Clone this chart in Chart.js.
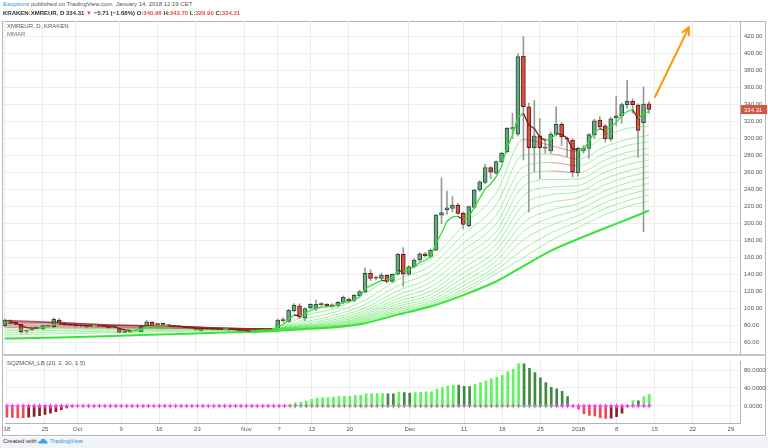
<!DOCTYPE html>
<html>
<head>
<meta charset="utf-8">
<title>XMREUR, D, KRAKEN</title>
<script src="https://cdn.jsdelivr.net/npm/chart.js@4.4.1/dist/chart.umd.min.js"></script>
<style>
  html, body { margin: 0; padding: 0; }
  body { width: 768px; height: 448px; position: relative; overflow: hidden; background: #fff;
         font-family: "Liberation Sans", Arial, sans-serif; }
  .abs { position: absolute; white-space: nowrap; }
  .red { color: #d75442; }
  .blue { color: #2196f3; }
  #frame { left: 2px; top: 21px; width: 764px; height: 415px; border: 1px solid #b2b5be; box-sizing: border-box; }
  #sep { left: 2px; top: 354px; width: 764px; height: 2px; background: #c3c6cc; }
  #foot { left: 0; top: 437px; width: 768px; height: 11px; background: #f1f3f6; }
  canvas { position: absolute; left: 0; }
</style>
</head>
<body>
<div id="frame" class="abs"></div>
<canvas id="priceChart" style="top:21px;width:768px;height:334px" width="768" height="334"></canvas>
<canvas id="momChart" style="top:356px;width:768px;height:80px" width="768" height="80"></canvas>
<div id="sep" class="abs"></div>

<div class="abs" style="left:3px;top:1px;font-size:6px;color:#555"><span class="blue">Esoptions</span> published on TradingView.com, January 14, 2018 12:19 CET</div>
<div class="abs" style="left:3px;top:10px;font-size:6px;font-weight:bold;color:#333">KRAKEN:XMREUR, D 334.31 <span class="red">&#9660;</span> &minus;5.71 (&minus;1.68%) O:<span class="red">340.96</span> H:<span class="red">343.70</span> L:<span class="red">329.90</span> C:<span class="red">334.31</span></div>
<div class="abs" style="left:7px;top:23px;font-size:6px;color:#555">XMREUR, D, KRAKEN</div>
<div class="abs" style="left:7px;top:31px;font-size:6px;color:#777">MMAR</div>
<div class="abs" style="left:7px;top:360px;font-size:6px;color:#555">SQZMOM_LB (20, 2, 20, 1.5)</div>

<div id="foot" class="abs"></div>
<div class="abs" style="left:3px;top:438px;font-size:6px;color:#333">Created with
  <svg width="10" height="6" viewBox="0 0 10 6" style="vertical-align:-1px"><path d="M1 5.5 Q0 5.5 0.5 4 Q1 2.5 2.5 3 Q3 0.5 5.5 0.8 Q8 1 8 3 Q10 3 9.5 5 Q9.2 5.5 8.5 5.5 Z" fill="#3ba0e6"/></svg>
  <span class="blue">TradingView</span></div>

<script>
// daily candles, 18 Sep 2017 (day 0) .. 14 Jan 2018 (day 118)
const opens = [
  80, 85.9, 84, 81.6, 74.1, 74.9, 77.6, 76.1, 80, 78.8,
  86.7, 82.8, 81, 81.6, 80.8, 78.8, 79.8, 79.2, 79.8, 78.8,
  78.8, 75.8, 74.1, 73, 74, 73, 79.6, 84, 81.6, 82.8,
  80.8, 80, 79, 78.8, 77.6, 76.9, 74, 76.3, 76, 75.5,
  76, 75, 75.8, 75.8, 74.9, 74.1, 72.2, 75.8, 75.6, 75.5,
  74.1, 86.7, 85, 97.5, 103.5, 89.2, 101.2, 99.6, 105.2, 105.2,
  104.5, 103.5, 107.5, 111.4, 109.6, 115.2, 120, 141.6, 136.4, 135.5,
  139.4, 132.2, 140.5, 164, 140.6, 149.4, 157.3, 164.7, 161.5, 169,
  210, 216.5, 218, 222, 212.2, 197.6, 219.3, 239.6, 248.7, 265.9,
  259.3, 273, 284.7, 311.4, 305.2, 397.3, 337.6, 289.4, 303.5, 289.6,
  285.5, 305.2, 317, 300.5, 298.5, 260, 285.5, 288.7, 304.4, 322,
  315, 299.3, 324.3, 326.9, 340, 344, 339.6, 319, 340.96
];
const highs = [
  88, 87, 84.7, 82, 75, 77, 78, 80.5, 80.5, 89,
  88.5, 83.5, 81.6, 82, 81, 80.5, 80.3, 80.6, 80.5, 79.3,
  79.5, 76.5, 74.6, 73.6, 74.6, 80, 86, 84.7, 83, 83.2,
  81.2, 80.5, 79.5, 79.2, 78, 77.3, 76.8, 76.8, 76.4, 76.5,
  76.5, 76.6, 76.2, 76.2, 75.2, 74.5, 76.2, 76.3, 76, 76,
  88, 89.4, 99, 106, 106, 101, 106, 110, 107, 106,
  106, 108.5, 115, 112.5, 116.5, 121.5, 148, 146, 138, 142,
  140, 141, 165, 171.8, 151, 159, 166, 166, 170, 211,
  254, 238.5, 232, 224, 214, 221, 240.5, 250.5, 270, 267,
  274, 284, 313, 330, 400, 420, 342, 345, 324, 300,
  308, 337.6, 319, 302, 300, 290, 292, 306, 323, 326,
  317, 325, 350, 342, 369, 347, 341, 361, 343.7
];
const lows = [
  79, 82, 81, 71, 71, 74, 76, 75.5, 79, 78,
  82, 80, 80, 79, 79, 78, 79, 78.6, 79, 77,
  78, 71.5, 71.8, 72, 73.4, 72.5, 79, 79.5, 80, 79.6,
  79.5, 78.5, 78.2, 77.2, 76.5, 74.5, 73.6, 75.6, 75.2, 75,
  75.3, 74.6, 75, 73.6, 72.6, 71.6, 71.8, 75, 74.8, 74.5,
  73.5, 84, 84, 96, 88, 86, 100, 98, 103, 102,
  101.5, 102, 106, 107, 108, 114, 119, 133, 134, 134,
  130, 131, 139.5, 126, 139, 148, 155, 161, 160, 168,
  200, 211, 214, 211, 193.8, 196, 218, 238, 247, 253,
  258, 272, 283, 300, 303, 275, 214, 261, 253, 283,
  283, 303, 292, 279, 255, 256, 283, 277, 300, 311,
  296, 297, 315, 318, 336, 330, 278, 190.6, 329.9
];
const closes = [
  86.7, 82.8, 81.6, 73, 73.6, 76.1, 76.9, 80, 79.6, 87.5,
  82.8, 80.8, 80.6, 79.6, 79.6, 79.6, 79.5, 80, 79.5, 77.6,
  78.5, 72.2, 72.2, 72.7, 74.3, 79.6, 84.7, 80, 81.2, 80,
  80, 78.8, 78.7, 77.6, 76.9, 74.9, 76.1, 76, 75.7, 76,
  75.8, 76.1, 75.5, 74.1, 73, 72.2, 75.8, 75.5, 75.3, 75,
  86.7, 86, 98, 104, 89.9, 100.2, 105.2, 105, 104.8, 103.5,
  102.8, 107.5, 113.8, 109.2, 115.6, 120.2, 141.6, 135.5, 136, 139.6,
  132.2, 140.5, 164, 140.5, 149.4, 157.3, 164.5, 162, 169, 210,
  213, 218.8, 222, 212.2, 199.3, 220, 239.6, 249.4, 265.9, 260.5,
  273, 282.8, 312.2, 313, 396.5, 337.6, 289.4, 303.5, 289.4, 289,
  305.5, 317, 302, 299.5, 261.2, 288.7, 289, 304.8, 321, 314,
  299.8, 323.4, 327, 340, 344, 340, 309.6, 340.7, 334.31
];

// top (fastest) line of the ribbon, one value per day
const fastMA = [
  84, 84.2, 83.4, 80, 77.8, 77.2, 77.1, 78, 78.6, 81.5,
  82, 81.6, 81.3, 80.7, 80.3, 80.1, 79.9, 79.9, 79.8, 79.1,
  78.9, 76.7, 75.2, 74.4, 74.4, 76.1, 79, 79.3, 79.9, 79.9,
  79.9, 79.5, 79.2, 78.7, 78.1, 77, 76.7, 76.5, 76.2, 76.1,
  76, 76, 75.8, 75.2, 74.5, 73.7, 74.4, 74.8, 75, 75,
  79, 81.3, 87, 92.6, 91.7, 94.5, 98, 100.3, 101.8, 102.4,
  102.5, 104.2, 107.4, 108, 110.5, 113.7, 123, 127.2, 130.1, 133.3,
  133, 135.5, 145, 143.5, 145.5, 149.4, 154.4, 157, 161, 177,
  189, 203, 208, 208.5, 205, 208, 219, 230, 241, 247,
  255, 267, 290, 304, 325, 330, 316, 312, 302, 298,
  299, 306, 305, 301, 288, 287, 288, 296, 308, 312,
  309, 314, 319, 327, 332, 334, 324, 329.5, 332
];

// the slower ribbon lines, read at these days
const ribbonDays = [0, 10, 20, 30, 40, 49, 55, 61, 66, 72, 78, 84, 90, 95, 100, 105, 110, 114, 118];
const ribbonThin = [
  [86, 83, 80, 79.6, 76.2, 75, 92, 101, 118, 142, 158, 198, 236, 299, 292, 285, 303, 312, 315],
  [86.5, 84, 80.5, 79.8, 76.7, 75.5, 87.5, 97, 110, 134, 150.5, 187, 222, 281, 282, 276, 291, 299, 304],
  [86, 84, 81, 79.9, 77.1, 76, 84.5, 93.5, 105, 127, 143.5, 177, 210, 267, 272, 268, 283, 292, 296.5],
  [85, 83.5, 81, 79.8, 77.3, 76.3, 82.5, 90.5, 101, 121, 137, 169, 200, 255, 262, 260, 275, 284, 288.7],
  [84, 83, 80.5, 79.5, 77.4, 76.4, 81, 88, 98, 116, 131, 161, 191, 244, 252, 252.5, 268, 277, 282],
  [82.5, 82, 80, 79, 77.3, 76.4, 80, 86, 95.5, 112, 125.5, 154.5, 183, 233, 243, 245, 260.5, 269.5, 275],
  [81, 80.5, 79, 78.3, 77.1, 76.3, 79.2, 84.5, 93.5, 108.5, 120.5, 148, 175.5, 222, 234, 237.5, 253, 262, 268],
  [79.5, 79, 78, 77.6, 76.9, 76.2, 78.6, 83, 91.5, 105.5, 116.5, 142, 168.5, 211, 225, 230.5, 246, 255, 261],
  [78, 77.6, 77.3, 76.9, 76.7, 76.1, 78, 82, 90, 103, 113, 136.5, 162, 201, 216, 223.5, 239, 248, 254.6],
  [76, 76.3, 76.4, 76.6, 76.6, 76, 77.5, 81, 88.5, 100.5, 110, 131.5, 156, 191, 207, 216.5, 232, 241, 247.5],
  [74, 74.5, 75, 75.6, 76, 75.6, 77, 80.2, 87, 98.5, 107.5, 127, 150.5, 181, 198, 209.5, 225, 234, 240.5],
  [71.5, 72.5, 73.5, 74.3, 75.1, 75, 76.6, 79.5, 85.8, 96.5, 105.5, 123, 145.5, 170, 189, 202.5, 218, 227, 233.8],
  [69, 70.5, 71.8, 73, 74.2, 74.3, 76.2, 78.9, 84.6, 95, 104, 120, 141, 160, 180, 195.5, 211, 220, 227]
];
const ribbonSlow = [65, 66, 68, 70, 72, 73.5, 76, 78.5, 83, 93, 102.5, 116, 132, 150, 168, 182, 195, 205, 215.5];

// squeeze momentum histogram, one value per day
const momentum = [
  -25, -25.6, -26, -26.1, -25, -23.5, -21.5, -19, -16, -12.5,
  -8.5, -4.5, -1.5, 0, 0, 0, 0, 0, 0, 0,
  0, 0, 0, 0, 0, 0, 0, 0, 0, 0,
  0, 0, 0, 0, 0, 0, 0, 0, 0, 0,
  0, 0, 0, 0, 0, 0, 0, 0, 0, 0,
  0, 0, 2.8, 7, 8.3, 11, 14.6, 17.4, 18.6, 18.9,
  19.5, 20.9, 21.4, 21.6, 23.6, 23.8, 27.1, 27.6, 27.8, 27.9,
  27.1, 26.8, 30.6, 29.9, 28.5, 29.9, 31.1, 31.3, 31.5, 37.6,
  41, 44.5, 46.6, 46.2, 43.8, 43.1, 48, 52.2, 55.7, 60.5,
  64, 68.2, 76.5, 81.4, 93.9, 93.5, 83.5, 74.4, 62.6, 52.2,
  41.7, 38.3, 32.7, 20.9, -1.5, -7, -17, -21, -22.3, -26.4,
  -27.8, -27, -24, -16, -0.8, 11.8, 11.5, 20.9, 25.7
];
// zero-line crosses: runs of [colour key, number of days]
const squeezeRuns = [["m", 52], ["g", 49], ["m", 18]];

const priceTicks = [60, 80, 100, 120, 140, 160, 180, 200, 220, 240, 260, 280, 300, 320, 340, 360, 380, 400, 420];
const momTicks = [0, 40, 80];
const dateTickDays = [0, 7, 13, 21, 28, 35, 44, 50, 56, 63, 74, 84, 91, 98, 105, 112, 119, 126, 133];
const dateTickLabels = ["18", "25", "Oct", "9", "16", "23", "Nov", "7", "13", "20", "Dec", "11", "18", "25", "2018", "8", "15", "22", "29"];

// hand-drawn orange arrow on the chart (day, price)
const arrow = { fromDay: 119.1, fromPrice: 349, toDay: 125.3, toPrice: 431 };

const X_MIN = -0.31, X_MAX = 134.67;
const GRID = "#ededed";
const AXIS = "#b2b5be";
const TEXT = "#555";

Chart.defaults.font.family = '"Liberation Sans", Arial, sans-serif';
Chart.defaults.font.size = 6;

const days = closes.map((_, i) => i);
const squeeze = [];
squeezeRuns.forEach(([k, n]) => { for (let i = 0; i < n; i++) squeeze.push(k); });

function slopeColor(up, down) {
  return c => (c.p1.parsed.y < c.p0.parsed.y ? down : up);
}

const thinSets = ribbonThin.map(row => ({
  type: "line",
  data: ribbonDays.map((d, j) => ({ x: d, y: row[j] })),
  borderWidth: 1,
  pointRadius: 0,
  cubicInterpolationMode: "monotone",
  segment: { borderColor: slopeColor("rgba(70,225,70,0.5)", "rgba(150,35,45,0.45)") },
  order: 2
}));

const overlay = {
  id: "overlay",
  afterDraw(chart) {
    const { ctx, scales: { x, y } } = chart;
    ctx.save();
    const x0 = x.getPixelForValue(arrow.fromDay), y0 = y.getPixelForValue(arrow.fromPrice);
    const x1 = x.getPixelForValue(arrow.toDay), y1 = y.getPixelForValue(arrow.toPrice);
    ctx.strokeStyle = "#ff9800";
    ctx.lineWidth = 2;
    ctx.lineCap = "round";
    ctx.beginPath();
    ctx.moveTo(x0, y0);
    ctx.lineTo(x1, y1);
    const a = Math.atan2(y1 - y0, x1 - x0);
    for (const s of [-0.45, 0.45]) {
      ctx.moveTo(x1, y1);
      ctx.lineTo(x1 - 8 * Math.cos(a + s), y1 - 8 * Math.sin(a + s));
    }
    ctx.stroke();

    // last price tag on the axis
    const last = closes[closes.length - 1];
    const py = y.getPixelForValue(last);
    ctx.fillStyle = "#d75442";
    ctx.fillRect(x.right + 1, py - 4.5, 26, 9);
    ctx.fillStyle = "#fff";
    ctx.font = '6px "Liberation Sans", Arial';
    ctx.textBaseline = "middle";
    ctx.fillText(last.toFixed(2), x.right + 4, py + 0.5);
    ctx.restore();
  }
};

new Chart(document.getElementById("priceChart"), {
  type: "bar",
  data: {
    datasets: [
      ...thinSets,
      {
        type: "line",
        data: ribbonDays.map((d, j) => ({ x: d, y: ribbonSlow[j] })),
        borderColor: "#35e635",
        borderWidth: 2,
        pointRadius: 0,
        cubicInterpolationMode: "monotone",
        order: 1
      },
      {
        type: "line",
        data: days.map(i => ({ x: i, y: fastMA[i] })),
        borderWidth: 1.3,
        pointRadius: 0,
        segment: { borderColor: slopeColor("#2fe22f", "#8b1a1a") },
        order: 0
      },
      {
        data: days.map(i => ({ x: i, y: [lows[i], highs[i]] })),
        backgroundColor: "#9a9a9a",
        barThickness: 1,
        grouped: false,
        order: 4
      },
      {
        data: days.map(i => ({ x: i, y: [opens[i], closes[i]] })),
        backgroundColor: days.map(i => (closes[i] >= opens[i] ? "#6ba583" : "#d75442")),
        borderColor: days.map(i => (closes[i] >= opens[i] ? "#225437" : "#5b1a13")),
        borderWidth: 1,
        borderSkipped: false,
        barThickness: 4,
        minBarLength: 1,
        grouped: false,
        order: 3
      }
    ]
  },
  options: {
    responsive: false,
    animation: false,
    events: [],
    layout: { padding: { left: 3, right: 0, top: 0, bottom: 0 } },
    plugins: { legend: { display: false }, tooltip: { enabled: false } },
    scales: {
      x: {
        type: "linear", min: X_MIN, max: X_MAX, offset: false,
        grid: { color: GRID, drawTicks: false, offset: false },
        border: { display: false },
        ticks: { display: false },
        afterBuildTicks: s => { s.ticks = dateTickDays.map(v => ({ value: v })); },
        afterFit: s => { s.height = 0; s.paddingLeft = 0; s.paddingRight = 0; }
      },
      y: {
        position: "right", min: 45.53, max: 438.47,
        grid: { color: GRID, drawTicks: false },
        border: { display: true, color: AXIS },
        ticks: { padding: 4, color: TEXT, callback: v => v.toFixed(2) },
        afterBuildTicks: s => { s.ticks = priceTicks.map(v => ({ value: v })); },
        afterFit: s => { s.width = 28; s.paddingTop = 0; s.paddingBottom = 0; }
      }
    }
  },
  plugins: [overlay]
});

new Chart(document.getElementById("momChart"), {
  type: "bar",
  data: {
    datasets: [
      {
        type: "line",
        data: days.map(i => ({ x: i, y: 0 })),
        showLine: false,
        pointStyle: "cross",
        pointRadius: 2.2,
        pointBorderWidth: 1.2,
        pointBorderColor: days.map(i => (squeeze[i] === "m" ? "#f03cf0" : "#8e8e8e")),
        order: 0
      },
      {
        data: days.map(i => ({ x: i, y: momentum[i] })),
        barThickness: 2,
        grouped: false,
        backgroundColor: days.map(i => {
          const v = momentum[i], p = i > 0 ? momentum[i - 1] : v;
          if (v >= 0) return v > p ? "#5cf55c" : "#3f8a3f";
          return v < p || i === 0 ? "#f54848" : "#8c1f1f";
        }),
        order: 1
      }
    ]
  },
  options: {
    responsive: false,
    animation: false,
    events: [],
    layout: { padding: { left: 3, right: 0, top: 1, bottom: 0 } },
    plugins: { legend: { display: false }, tooltip: { enabled: false } },
    scales: {
      x: {
        type: "linear", min: X_MIN, max: X_MAX, offset: false,
        grid: { color: GRID, drawTicks: false, offset: false },
        border: { display: true, color: AXIS },
        ticks: { padding: 3, color: TEXT, autoSkip: false, maxRotation: 0, callback: (v, i) => dateTickLabels[i] },
        afterBuildTicks: s => { s.ticks = dateTickDays.map(v => ({ value: v })); },
        afterFit: s => { s.height = 13; s.paddingLeft = 0; s.paddingRight = 0; }
      },
      y: {
        position: "right", min: -37.9, max: 99.6,
        grid: { color: GRID, drawTicks: false },
        border: { display: true, color: AXIS },
        ticks: { padding: 4, color: TEXT, callback: v => v.toFixed(4) },
        afterBuildTicks: s => { s.ticks = momTicks.map(v => ({ value: v })); },
        afterFit: s => { s.width = 28; s.paddingTop = 0; s.paddingBottom = 0; }
      }
    }
  }
});
</script>
</body>
</html>
